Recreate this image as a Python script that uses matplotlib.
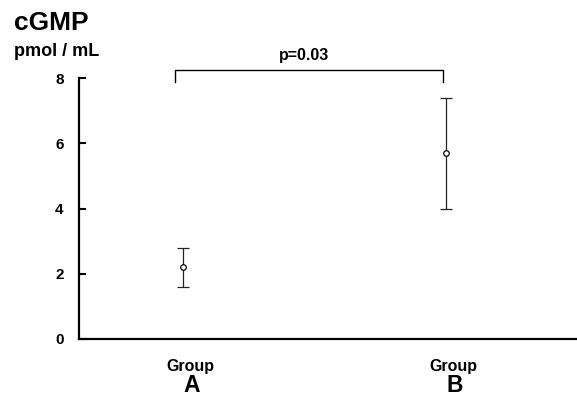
import numpy as np
import matplotlib
matplotlib.use("Agg")
import matplotlib.pyplot as plt

groups = ["A", "B"]
means = [2.2, 5.7]
lower = [1.6, 4.0]
upper = [2.8, 7.4]
yticks = [0, 2, 4, 6, 8]
p_text = "p=0.03"

plt.rcParams['font.family'] = ['Liberation Sans', 'DejaVu Sans']

fig = plt.figure(figsize=(5.77, 3.99), dpi=100)
ax = fig.add_axes([79 / 577, 60 / 399, 1 - 79 / 577, 261 / 399])

x = np.arange(1, len(groups) + 1)
m = np.array(means)
yerr = [m - np.array(lower), np.array(upper) - m]
ax.errorbar(x, m, yerr=yerr, fmt="o", color="#222222", mfc="white", mec="black",
            ms=4, mew=0.9, elinewidth=0.9, capsize=4.5, capthick=0.9)

ax.set_xlim(0.605, 2.5)
ax.set_ylim(0, 8)
ax.set_yticks(yticks)
ax.set_yticklabels([str(t) for t in yticks], fontweight="bold", fontsize=11)
ax.tick_params(axis="y", direction="in", length=5, width=1.5, pad=11)
ax.set_xticks([])
for s in ["top", "right"]:
    ax.spines[s].set_visible(False)
for s in ["left", "bottom"]:
    ax.spines[s].set_linewidth(1.6)

# group labels (sit a little right of the markers in the original)
for xi, g in zip(x, groups):
    ax.text(xi + 0.03, -0.83, "Group", ha="center", va="center", fontsize=11.5, fontweight="bold",
            clip_on=False)
    ax.text(xi + 0.035, -1.62, g, ha="center", va="baseline", fontsize=16.5, fontweight="bold",
            clip_on=False)

# significance bracket
bx = [0.97, 0.97, 1.99, 1.99]
by = [7.88, 8.25, 8.25, 7.88]
ax.plot(bx, by, color="black", lw=1.0, clip_on=False)
ax.text(1.46, 8.7, p_text, ha="center", va="center", fontsize=11.5, fontweight="bold", clip_on=False)

fig.text(14 / 577, 1 - 23 / 399, "cGMP", ha="left", va="center", fontsize=19, fontweight="bold")
fig.text(14 / 577, 1 - 52 / 399, "pmol / mL", ha="left", va="center", fontsize=13, fontweight="bold")

fig.savefig("out.png", dpi=100)
